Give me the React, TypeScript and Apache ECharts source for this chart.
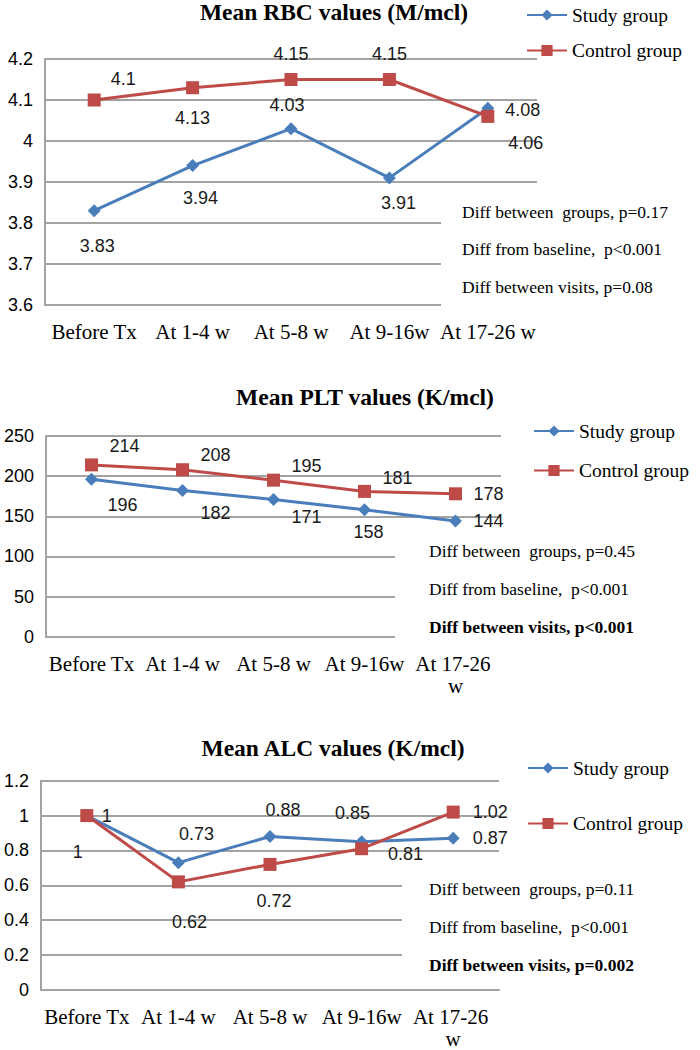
import React, { useEffect, useRef } from 'react';
import * as echarts from 'echarts';

// ---- data ----
const categories = ['Before Tx', 'At 1-4 w', 'At 5-8 w', 'At 9-16w', 'At 17-26 w'];
const seriesNames = ['Study group', 'Control group'];

const rbcStudy = [3.83, 3.94, 4.03, 3.91, 4.08];
const rbcControl = [4.1, 4.13, 4.15, 4.15, 4.06];
const pltStudy = [196, 182, 171, 158, 144];
const pltControl = [214, 208, 195, 181, 178];
const alcStudy = [1, 0.73, 0.88, 0.85, 0.87];
const alcControl = [1, 0.62, 0.72, 0.81, 1.02];

const titles = ['Mean RBC values (M/mcl)', 'Mean PLT values (K/mcl)', 'Mean ALC values (K/mcl)'];
const statsRbc = ['Diff between  groups, p=0.17', 'Diff from baseline,  p<0.001', 'Diff between visits, p=0.08'];
const statsPlt = ['Diff between  groups, p=0.45', 'Diff from baseline,  p<0.001', 'Diff between visits, p<0.001'];
const statsAlc = ['Diff between  groups, p=0.11', 'Diff from baseline,  p<0.001', 'Diff between visits, p=0.002'];

const yMins = [3.6, 0, 0];
const yMaxs = [4.2, 250, 1.2];
const yIntervals = [0.1, 50, 0.2];

// ---- layout / style (not data) ----
const BLUE = '#4A7EBB';
const RED = '#BE4B48';
const GRID_COLOR = '#a3a3a3';
const SERIF = '"Liberation Serif", "Times New Roman", serif';
const SANS = '"Liberation Sans", Arial, sans-serif';

const grids = [
  { left: 45, top: 59, width: 492, height: 246 },
  { left: 46, top: 436, width: 455, height: 200.7 },
  { left: 41, top: 780.7, width: 458, height: 211 },
];
const titlePos = [[334, 12], [365, 397], [333, 748]];
const legendPos = [
  { left: 526, top: 5, itemGap: 15.5 },
  { left: 533, top: 421, itemGap: 19.5 },
  { left: 527, top: 758, itemGap: 35.5 },
];
const coverRects = [
  [441, 195, 259, 118],
  [395, 535, 305, 110],
  [402, 870, 298, 105],
];
const statsPos = [
  [462, [212, 249, 287], false],
  [429, [551, 589, 627], true],
  [429, [889, 927, 965], true],
];

const rbcStudyOff = [[3, 35], [8, 32], [-4, -24], [9, 25], [35, 2]];
const rbcControlOff = [[29, -21], [0, 30], [0, -26], [0, -26], [38, 27]];
const pltStudyOff = [[31, 26], [33, 22], [33, 18], [4, 22], [33, 0]];
const pltControlOff = [[33, -19], [33, -15], [33, -14], [33, -13], [33, 0]];
const alcStudyOff = [[20, 0], [18, -29], [13, -27], [-9, -29], [37, 0]];
const alcControlOff = [[-9, 36], [11, 40], [4, 37], [44, 5], [37, 0]];

const panels = [
  { study: rbcStudy, control: rbcControl, sOff: rbcStudyOff, cOff: rbcControlOff, stats: statsRbc },
  { study: pltStudy, control: pltControl, sOff: pltStudyOff, cOff: pltControlOff, stats: statsPlt },
  { study: alcStudy, control: alcControl, sOff: alcStudyOff, cOff: alcControlOff, stats: statsAlc },
];

function buildOption() {
  const series: any[] = [];
  panels.forEach((p, i) => {
    const mk = (name: string, vals: number[], offs: number[][], color: string, symbol: string) => ({
      type: 'line',
      name,
      xAxisIndex: i,
      yAxisIndex: i,
      data: vals.map((v, j) => ({ value: v, label: { offset: offs[j] } })),
      symbol,
      symbolSize: 13,
      lineStyle: { width: 3, color },
      itemStyle: { color },
      label: {
        show: true,
        position: 'inside',
        fontFamily: SANS,
        fontSize: 18,
        color: '#1a1a1a',
      },
      z: 2,
    });
    series.push(mk(seriesNames[0], p.study, p.sOff, BLUE, 'diamond'));
    series.push(mk(seriesNames[1], p.control, p.cOff, RED, 'rect'));
  });

  const graphics: any[] = [];
  titles.forEach((t, i) => {
    graphics.push({
      type: 'text',
      x: titlePos[i][0],
      y: titlePos[i][1],
      z: 5,
      style: {
        text: t,
        align: 'center',
        verticalAlign: 'middle',
        font: `bold 23.5px ${SERIF}`,
        fill: '#000',
      },
    });
  });
  coverRects.forEach((r) => {
    graphics.push({
      type: 'rect',
      z: 1,
      shape: { x: r[0], y: r[1], width: r[2], height: r[3] },
      style: { fill: '#ffffff' },
    });
  });
  panels.forEach((p, i) => {
    const [x, ys, boldLast] = statsPos[i] as [number, number[], boolean];
    p.stats.forEach((s, k) => {
      graphics.push({
        type: 'text',
        x,
        y: ys[k],
        z: 5,
        style: {
          text: s,
          align: 'left',
          verticalAlign: 'middle',
          font: `${boldLast && k === 2 ? 'bold ' : ''}17.5px ${SERIF}`,
          fill: '#000',
        },
      });
    });
  });

  return {
    animation: false,
    backgroundColor: '#ffffff',
    grid: grids.map((g) => ({ ...g, containLabel: false })),
    legend: legendPos.map((l) => ({
      data: seriesNames,
      orient: 'vertical',
      left: l.left,
      top: l.top,
      itemGap: l.itemGap,
      itemWidth: 40,
      itemHeight: 14,
      selectedMode: false,
      padding: 0,
      textStyle: { fontFamily: SERIF, fontSize: 19.5, color: '#000' },
    })),
    xAxis: grids.map((_, i) => ({
      gridIndex: i,
      type: 'category',
      data: categories,
      boundaryGap: true,
      axisTick: { show: false },
      axisLine: { show: true, lineStyle: { color: GRID_COLOR, width: 2 } },
      splitLine: { show: false },
      axisLabel: {
        interval: 0,
        margin: 16,
        fontFamily: SERIF,
        fontSize: 21,
        lineHeight: 22,
        color: '#000',
        ...(i === 0 ? {} : { width: 88, overflow: 'break' }),
      },
    })),
    yAxis: grids.map((_, i) => ({
      gridIndex: i,
      type: 'value',
      min: yMins[i],
      max: yMaxs[i],
      interval: yIntervals[i],
      axisLine: { show: true, lineStyle: { color: GRID_COLOR, width: 2 } },
      axisTick: { show: false },
      splitLine: { show: true, lineStyle: { color: GRID_COLOR, width: 2 } },
      axisLabel: { margin: 12, fontFamily: SANS, fontSize: 18, color: '#000' },
    })),
    series,
    graphic: graphics,
  };
}

export default function App() {
  const ref = useRef<HTMLDivElement>(null);
  useEffect(() => {
    if (!ref.current) return;
    const chart = echarts.init(ref.current, undefined, { renderer: 'svg' });
    chart.setOption(buildOption() as any);
    return () => chart.dispose();
  }, []);
  return (
    <div
      ref={ref}
      style={{ position: 'absolute', left: 0, top: 0, width: 700, height: 1050, background: '#fff' }}
    />
  );
}
